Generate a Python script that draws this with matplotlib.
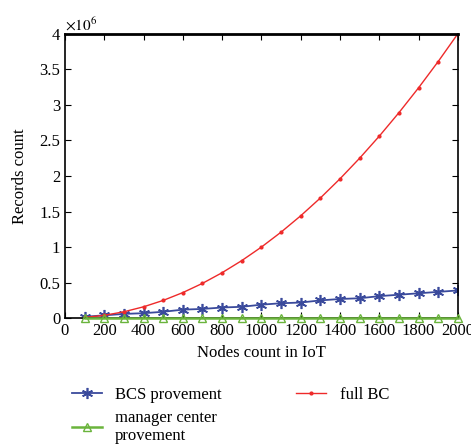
import numpy as np
from matplotlib import pyplot as plt

plt.rcParams['font.family'] = ['Liberation Serif', 'DejaVu Serif']
plt.rcParams['mathtext.fontset'] = 'stix'

nodes = [100, 200, 300, 400, 500, 600, 700, 800, 900, 1000,
         1100, 1200, 1300, 1400, 1500, 1600, 1700, 1800, 1900, 2000]
bcs = [0.02, 0.04, 0.06, 0.07, 0.09, 0.12, 0.13, 0.15, 0.16, 0.19,
       0.21, 0.22, 0.25, 0.27, 0.28, 0.31, 0.33, 0.35, 0.37, 0.39]
manager = [0.005] * 20
full_bc = [0.01, 0.04, 0.09, 0.16, 0.25, 0.36, 0.49, 0.64, 0.81, 1.0,
           1.21, 1.44, 1.69, 1.96, 2.25, 2.56, 2.89, 3.24, 3.61, 4.0]

fig = plt.figure(figsize=(4.71, 4.45), dpi=100)
ax = fig.add_axes([0.138, 0.285, 0.834, 0.639])

l1, = ax.plot(nodes, np.array(bcs) * 1e6, color='#3a4a9c', marker=(6, 2, 0), markersize=8,
              markeredgewidth=1.2, linewidth=1.3, label='BCS provement')
l3, = ax.plot(nodes, np.array(full_bc) * 1e6, color='#ee2a2a', marker='.', markersize=4,
              linewidth=1.0, label='full BC')
l2, = ax.plot(nodes, np.array(manager) * 1e6, color='#6ab43c', marker='^', markersize=6,
              markerfacecolor='none', linewidth=1.8, label='manager center\nprovement',
              clip_on=False, zorder=3)

ax.set_xlim(0, 2000)
ax.set_ylim(0, 4e6)
ax.set_xticks(range(0, 2001, 200))
ax.set_yticks(np.arange(0, 4.01e6, 0.5e6))
ax.set_yticklabels(['0', '0.5', '1', '1.5', '2', '2.5', '3', '3.5', '4'])
ax.tick_params(direction='in', top=True, right=True, labelsize=12, length=4)
ax.text(0, 1.01, r'$\times10^6$', transform=ax.transAxes, fontsize=11)
for s in ax.spines.values():
    s.set_linewidth(1.2)
ax.spines['top'].set_linewidth(2.0)

ax.set_xlabel('Nodes count in IoT', fontsize=12)
ax.set_ylabel('Records count', fontsize=12, labelpad=8)

fig.legend(handles=[l1, l2, l3], loc='upper left', bbox_to_anchor=(0.12, 0.165),
           ncol=2, frameon=False, fontsize=12, handlelength=1.8,
           columnspacing=4.5, labelspacing=0.45)

fig.savefig('out.png', dpi=100)
